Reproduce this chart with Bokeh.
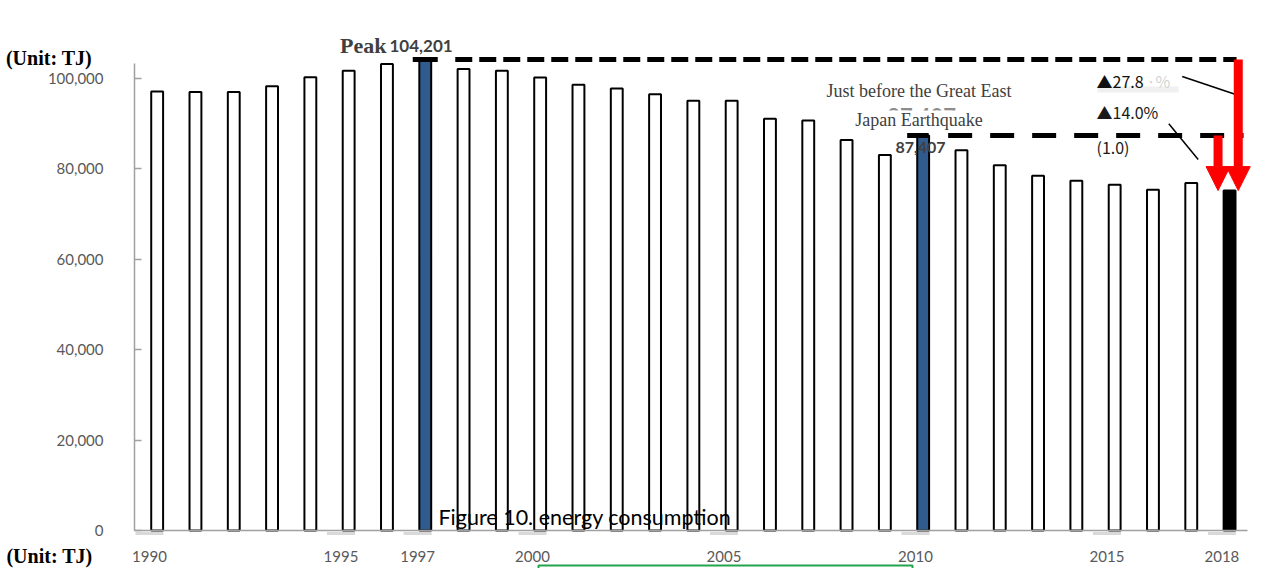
from bokeh.plotting import figure
from bokeh.models import (Range1d, LinearAxis, FixedTicker, NumeralTickFormatter,
                          Arrow, NormalHead, ColumnDataSource)
from bokeh.transform import dodge
from bokeh.core.properties import value
from bokeh.embed import file_html
from bokeh.resources import INLINE

# ---- data -------------------------------------------------------------
years = list(range(1990, 2019))
consumption = [97100, 97000, 97000, 98300, 100300, 101700, 103200, 104201,
               102100, 101700, 100200, 98600, 97800, 96500, 95100, 95100,
               91100, 90700, 86400, 83100, 87407, 84100, 80800, 78500,
               77400, 76500, 75400, 76900, 75200]
x_tick_years = [1990, 1995, 1997, 2000, 2005, 2010, 2015, 2018]
y_ticks = [0, 20000, 40000, 60000, 80000, 100000]
peak_year = 1997
quake_year = 2010
latest_year = 2018
unit_label = "(Unit: TJ)"
caption = "Figure 10. energy consumption"
quake_note = ["Just before the Great East", "Japan Earthquake"]
index_note = "(1.0)"

# ---- canvas geometry --------------------------------------------------
W, H = 1273, 568
PPY = 38.3            # pixels per year
X0_PX = 149           # pixel column of the 1990 tick label
PPU = 0.00452         # pixels per TJ
ZERO_PX = 530         # pixel row of the zero line
BAR_SHIFT = 0.2       # bars sit slightly right of their year labels

x_range = Range1d(1990 - X0_PX / PPY, 1990 + (W - X0_PX) / PPY)
y_range = Range1d(-(H - ZERO_PX) / PPU, ZERO_PX / PPU)


def X(px):
    return x_range.start + px / PPY


def Y(py):
    return (ZERO_PX - py) / PPU


def dx(px):
    return px / PPY


val = dict(zip(years, consumption))
peak_v, quake_v, latest_v = val[peak_year], val[quake_year], val[latest_year]
peak_x = peak_year + BAR_SHIFT
quake_x = quake_year + BAR_SHIFT
latest_x = latest_year + BAR_SHIFT
drop_peak = f"▲{(peak_v - latest_v) / peak_v * 100:.1f}"
drop_quake = f"▲{(quake_v - latest_v) / quake_v * 100:.1f}%"

fills, alphas = [], []
for y in years:
    if y in (peak_year, quake_year):
        fills.append("#2f5b8e"); alphas.append(1.0)
    elif y == latest_year:
        fills.append("#000000"); alphas.append(1.0)
    else:
        fills.append("#ffffff"); alphas.append(0.0)

src = ColumnDataSource(dict(year=years, value=consumption, fill=fills, alpha=alphas))

p = figure(width=W, height=H, x_range=x_range, y_range=y_range,
           output_backend="svg", toolbar_location=None, min_border=0,
           x_axis_type=None, y_axis_type=None, outline_line_color=None,
           background_fill_color="white", border_fill_color="white")

LATO = value("Lato")
SERIF = value("Liberation Serif")
CJK = value("Noto Sans CJK JP")

# texts that sit beneath the bars
p.text(x=[X(584.4)], y=[Y(516)], text=[caption], text_font=LATO,
       text_font_size="21.5px", text_color="#000000",
       text_align="center", text_baseline="middle")
p.text(x=[quake_x - dx(1.5)], y=[Y(116)], text=[f"{quake_v:,}"], text_font=LATO,
       text_font_style="bold", text_font_size="22px", text_color="#8c8c8c",
       text_align="center", text_baseline="alphabetic")

# white boxes behind the pre-earthquake note
p.quad(left=[X(824), X(850)], right=[X(1013), X(988)],
       top=[Y(81), Y(110)], bottom=[Y(99), Y(131)],
       fill_color="white", line_color=None)
p.text(x=[X(918.5), X(918.5)], y=[Y(90), Y(119.5)], text=quake_note,
       text_font=SERIF, text_font_size="18px", text_color="#404040",
       text_align="center", text_baseline="middle")

# faint marks on the zero line under each year label
p.segment(x0=[y - dx(14) for y in x_tick_years], x1=[y + dx(14) for y in x_tick_years],
          y0=[Y(533)] * len(x_tick_years), y1=[Y(533)] * len(x_tick_years),
          line_color="#d9d9d9", line_width=3)

# bars
p.vbar(x=dodge("year", BAR_SHIFT), top="value", bottom=0, width=0.31, source=src,
       fill_color="fill", fill_alpha="alpha", line_color="#000000", line_width=2)

# value of the pre-earthquake year, written over its bar
p.text(x=[X(895)], y=[Y(147)], text=[f"{quake_v:,}"], text_font=LATO,
       text_font_style="bold", text_font_size="16px", text_color="#404040",
       text_align="left", text_baseline="middle")

# reference levels: peak and pre-earthquake
p.segment(x0=[peak_x - dx(12.5)], x1=[peak_x + dx(12.5)], y0=[peak_v], y1=[peak_v],
          line_color="black", line_width=5)
p.segment(x0=[peak_x + dx(30)], x1=[latest_x + dx(7)], y0=[peak_v], y1=[peak_v],
          line_color="black", line_width=5, line_dash="17 7")
p.segment(x0=[quake_x - dx(16)], x1=[quake_x + dx(5.5)], y0=[quake_v], y1=[quake_v],
          line_color="black", line_width=5)
p.segment(x0=[quake_x + dx(25)], x1=[latest_x + dx(14)], y0=[quake_v], y1=[quake_v],
          line_color="black", line_width=5, line_dash="24 18")

# leader lines to the arrows
p.segment(x0=[X(1181.7), X(1168.3)], x1=[X(1236), X(1197.7)],
          y0=[Y(76), Y(123.3)], y1=[Y(94.3), Y(159)],
          line_color="black", line_width=1.5)

# decline arrows
for xs, ys in ((latest_x + dx(8.7), peak_v), (latest_x - dx(11.5), quake_v)):
    p.add_layout(Arrow(end=NormalHead(size=24, fill_color="#ff0000", line_color="#ff0000"),
                       x_start=xs, y_start=ys, x_end=xs, y_end=latest_v,
                       line_color="#ff0000", line_width=9))

# axes
yaxis = LinearAxis(fixed_location=X(134), bounds=(0, Y(63)),
                   ticker=FixedTicker(ticks=y_ticks),
                   formatter=NumeralTickFormatter(format="0,0"),
                   axis_line_color="#a0a0a0", axis_line_width=1.5,
                   major_tick_line_color="#a0a0a0", major_tick_line_width=1.5,
                   major_tick_in=7, major_tick_out=0,
                   minor_tick_line_color=None, major_label_standoff=31,
                   major_label_text_font="Lato",
                   major_label_text_font_size="15px",
                   major_label_text_color="#595959")
p.add_layout(yaxis, "left")

xaxis = LinearAxis(fixed_location=0, bounds=(X(134), X(1247)),
                   ticker=FixedTicker(ticks=x_tick_years),
                   axis_line_color="#a0a0a0", axis_line_width=1.5,
                   major_tick_in=0, major_tick_out=0, major_tick_line_color=None,
                   minor_tick_line_color=None, major_label_standoff=20,
                   major_label_text_font="Lato",
                   major_label_text_font_size="15px",
                   major_label_text_color="#595959")
p.add_layout(xaxis, "below")

# unit notes
p.text(x=[X(48.5), X(49)], y=[Y(57.5), Y(555)], text=[unit_label, unit_label],
       text_font=SERIF, text_font_style="bold", text_font_size="20px",
       text_color="#000000", text_align="center", text_baseline="middle")

# peak annotation
p.text(x=[X(386)], y=[Y(45)], text=["Peak"], text_font=SERIF, text_font_style="bold",
       text_font_size="22px", text_color="#404040", text_align="right",
       text_baseline="alphabetic")
p.text(x=[X(389)], y=[Y(45)], text=[f"{peak_v:,}"], text_font=LATO,
       text_font_style="bold", text_font_size="17px", text_color="#404040",
       text_align="left", text_baseline="alphabetic")

# decline notes
p.quad(left=[X(1097)], right=[X(1178)], top=[Y(86)], bottom=[Y(92)],
       fill_color="#f0f0f0", line_color=None)
p.text(x=[X(1096)], y=[Y(80.7)], text=[drop_peak], text_font=CJK,
       text_font_size="16px", text_color="#111111", text_align="left",
       text_baseline="middle")
p.text(x=[X(1146)], y=[Y(80.7)], text=["·%"], text_font=CJK,
       text_font_size="16px", text_color="#d4d4d4", text_align="left",
       text_baseline="middle")
p.text(x=[X(1096), X(1096)], y=[Y(111.7), Y(146)], text=[drop_quake, index_note],
       text_font=CJK, text_font_size="16px", text_color="#1a1a1a",
       text_align="left", text_baseline="middle")

# green outline box at the bottom
p.quad(left=[X(538)], right=[X(912)], top=[Y(565)], bottom=[Y(585)],
       fill_alpha=0, line_color="#22a34e", line_width=2)

open("out.html", "w").write(file_html(p, INLINE))
